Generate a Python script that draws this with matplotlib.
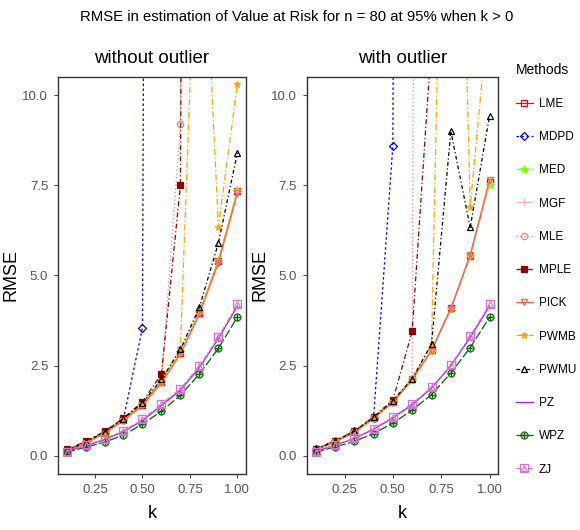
import matplotlib
matplotlib.use("Agg")
import matplotlib.pyplot as plt
from matplotlib import font_manager
from matplotlib.lines import Line2D
from matplotlib.legend_handler import HandlerTuple

names = {f.name for f in font_manager.fontManager.ttflist}
FONT = "Liberation Sans Narrow" if "Liberation Sans Narrow" in names else "Liberation Sans"
plt.rcParams['font.family'] = [FONT, 'DejaVu Sans']

k = [0.1, 0.2, 0.3, 0.4, 0.5, 0.6, 0.7, 0.8, 0.9, 1.0]
methods = ["LME", "MDPD", "MED", "MGF", "MLE", "MPLE", "PICK", "PWMB", "PWMU", "PZ", "WPZ", "ZJ"]

# without outlier
lme_wo  = [0.14, 0.36, 0.64, 1.00, 1.42, 2.05, 2.85, 3.97, 5.40, 7.33]
mdpd_wo = [0.16, 0.38, 0.66, 1.03, 3.55, 150, 300, 500, 800, 1000]
med_wo  = [0.15, 0.37, 0.63, 1.00, 1.43, 2.06, 2.87, 4.00, 5.42, 7.38]
mgf_wo  = [0.15, 0.36, 0.63, 0.99, 1.41, 2.04, 2.84, 3.96, 5.38, 7.30]
mle_wo  = [0.15, 0.37, 0.65, 1.02, 1.46, 2.08, 9.20, 150, 250, 400]
mple_wo = [0.18, 0.40, 0.68, 1.05, 1.50, 2.27, 7.50, 120, 200, 300]
pick_wo = [0.14, 0.35, 0.62, 0.98, 1.40, 2.02, 2.82, 3.93, 5.35, 7.28]
pwmb_wo = [0.15, 0.37, 0.64, 1.01, 1.45, 2.10, 2.98, 17.5, 6.35, 10.3]
pwmu_wo = [0.15, 0.38, 0.66, 1.03, 1.47, 2.12, 2.95, 4.12, 5.90, 8.40]
pz_wo   = [0.12, 0.28, 0.45, 0.68, 0.98, 1.40, 1.82, 2.45, 3.25, 4.15]
wpz_wo  = [0.10, 0.24, 0.38, 0.58, 0.88, 1.24, 1.68, 2.27, 2.98, 3.85]
zj_wo   = [0.12, 0.29, 0.47, 0.70, 1.01, 1.44, 1.86, 2.49, 3.30, 4.20]

# with outlier
lme_w  = [0.17, 0.39, 0.66, 1.05, 1.49, 2.12, 2.93, 4.09, 5.55, 7.58]
mdpd_w = [0.18, 0.40, 0.68, 1.05, 8.60, 150, 300, 500, 800, 1000]
med_w  = [0.17, 0.40, 0.67, 1.06, 1.50, 2.10, 2.92, 4.08, 5.56, 7.52]
mgf_w  = [0.17, 0.39, 0.66, 1.05, 1.49, 2.12, 2.93, 4.09, 5.54, 7.55]
mle_w  = [0.17, 0.40, 0.67, 1.06, 1.52, 2.12, 150, 250, 400, 600]
mple_w = [0.19, 0.42, 0.69, 1.08, 1.55, 3.45, 11.5, 150, 250, 400]
pick_w = [0.16, 0.38, 0.65, 1.04, 1.48, 2.11, 2.92, 4.08, 5.56, 7.65]
pwmb_w = [0.17, 0.40, 0.67, 1.06, 1.52, 2.15, 3.10, 28.6, 6.90, 12.6]
pwmu_w = [0.18, 0.41, 0.68, 1.07, 1.53, 2.14, 3.10, 9.00, 6.33, 9.42]
pz_w   = [0.12, 0.30, 0.48, 0.74, 1.05, 1.42, 1.88, 2.50, 3.28, 4.15]
wpz_w  = [0.10, 0.25, 0.40, 0.62, 0.91, 1.27, 1.70, 2.30, 3.00, 3.84]
zj_w   = [0.12, 0.30, 0.49, 0.76, 1.07, 1.45, 1.90, 2.52, 3.32, 4.20]

wo = [lme_wo, mdpd_wo, med_wo, mgf_wo, mle_wo, mple_wo, pick_wo, pwmb_wo, pwmu_wo, pz_wo, wpz_wo, zj_wo]
wi = [lme_w, mdpd_w, med_w, mgf_w, mle_w, mple_w, pick_w, pwmb_w, pwmu_w, pz_w, wpz_w, zj_w]

colors = ["#FF0000", "#0000FF", "#7FFF00", "#FFB6C1", "#FA8072", "#8B0000",
          "#FF6347", "#FFA500", "#000000", "#A020F0", "#006400", "#DA70D6"]
styles = ["-", (0, (2, 2)), (0, (4, 2)), (0, (6, 2)), (0, (1, 2)), (0, (4, 2, 1, 2)),
          "-", (0, (5, 2, 1, 2)), (0, (3, 2, 1, 2)), "-", (0, (7, 2)), (0, (4, 2, 1, 2))]
markers = ["s", "D", "*", "+", "o", "s", "v", "*", "^", "", r"$\oplus$", "s"]
fills = ["none", "none", "full", "full", "none", "full", "none", "full", "none", "none", "full", "none"]
sizes = [5, 4.5, 6, 6, 4.5, 5, 5, 5, 5, 0, 5.5, 5.5]

fig = plt.figure(figsize=(5.8, 5.3), dpi=100)
ax1 = fig.add_axes([0.1, 0.1057, 0.324, 0.749])
ax2 = fig.add_axes([0.529, 0.1057, 0.330, 0.749])

handles = []
for ax, data, sub in [(ax1, wo, "without outlier"), (ax2, wi, "with outlier")]:
    for i, m in enumerate(methods):
        ln, = ax.plot(k, data[i], color=colors[i], linestyle=styles[i], linewidth=0.9,
                      marker=markers[i] if markers[i] else None, markersize=sizes[i],
                      fillstyle=fills[i], markeredgewidth=0.9 if i != 10 else 0.3, label=m)
        if ax is ax1:
            handles.append(ln)
    # extra triangle inside ZJ squares
    ax.plot(k, data[11], linestyle="none", marker="^", markersize=4, color=colors[11],
            fillstyle="none", markeredgewidth=0.8)
    ax.set_xlim(0.055, 1.045)
    ax.set_ylim(-0.5, 10.5)
    ax.set_xticks([0.25, 0.5, 0.75, 1.0])
    ax.set_xticklabels(["0.25", "0.50", "0.75", "1.00"])
    ax.set_yticks([0, 2.5, 5, 7.5, 10])
    ax.set_yticklabels(["0.0", "2.5", "5.0", "7.5", "10.0"])
    ax.tick_params(colors="#4D4D4D", labelsize=9.5, length=3, width=0.8, labelcolor="#555566", pad=4)
    for s in ax.spines.values():
        s.set_color("#333333")
        s.set_linewidth(1.0)
    ax.set_xlabel("k", fontsize=13, labelpad=7)
    ax.set_ylabel("RMSE", fontsize=13, labelpad=2)
    ax.set_title(sub, fontsize=13.5, pad=10)

fig.suptitle("RMSE in estimation of Value at Risk for n = 80 at 95% when k > 0",
             fontsize=10.7, x=0.512, y=0.982)

zj_tri = Line2D([], [], linestyle="none", marker="^", markersize=4, color=colors[11],
                fillstyle="none", markeredgewidth=0.8)
leg_handles = handles[:11] + [(handles[11], zj_tri)]
leg = fig.legend(leg_handles, methods, loc="upper left", bbox_to_anchor=(0.889, 0.882),
                 frameon=False, fontsize=8.5, title="Methods", title_fontsize=10,
                 handlelength=1.5, handletextpad=0.45, labelspacing=1.8, borderpad=0,
                 borderaxespad=0,
                 handler_map={tuple: HandlerTuple(ndivide=1)})
leg._legend_box.align = "left"

fig.savefig("out.png", dpi=100)
